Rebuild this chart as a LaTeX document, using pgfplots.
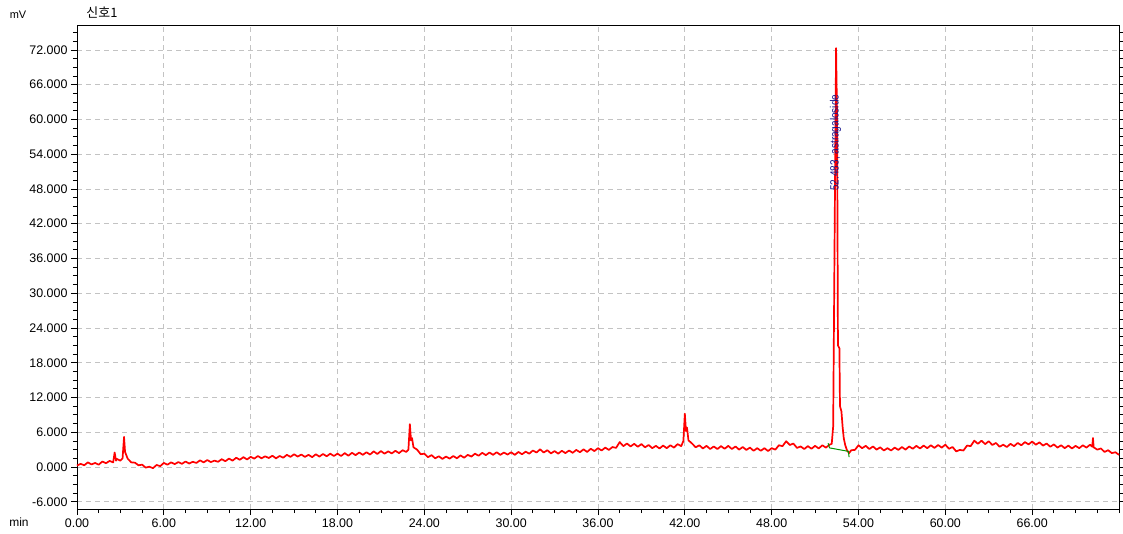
\documentclass[border=0pt]{standalone}
\usepackage{fontspec}
\setmainfont{Liberation Sans}
\newfontfamily\kr{Noto Sans CJK KR}
\usepackage{pgfplots}
\pgfplotsset{compat=1.18}
\usetikzlibrary{calc}
\definecolor{gridgray}{RGB}{195,195,195}
\definecolor{labelblue}{RGB}{20,20,140}
\definecolor{basegreen}{RGB}{0,150,0}
\begin{document}
\begin{tikzpicture}
\begin{axis}[
  name=ax,
  scale only axis,
  width=1042bp, height=484bp,
  xmin=0, xmax=72, ymin=-7.25, ymax=76.3,
  xtick={0,6,...,66},
  ytick={-6,0,...,72},
  minor xtick={0,1.5,...,72},
  minor ytick={-6,-4.5,...,76.5},
  xtick pos=lower, ytick pos=both,
  tick align=outside,
  major tick length=6bp, minor tick length=4bp,
  every tick/.style={black, line width=0.8bp},
  axis line style={black, line width=0.9bp},
  grid=major,
  major grid style={gridgray, dash pattern=on 5bp off 4bp, line width=0.8bp},
  tick label style={font=\fontsize{12.5}{14}\selectfont},
  xticklabel style={/pgf/number format/.cd, fixed, fixed zerofill, precision=2, assume math mode=true},
  yticklabel style={/pgf/number format/.cd, fixed, fixed zerofill, precision=3, assume math mode=true},
  yticklabel pos=left,
  clip=false,
]
\addplot[red, line width=1.7bp, line join=round] table {
x y
0.00 0.25
0.25 0.55
0.50 0.30
0.75 0.80
1.00 0.45
1.25 0.70
1.50 0.40
1.75 0.95
2.00 0.65
2.25 1.05
2.50 0.80
2.60 2.50
2.70 1.10
2.75 1.40
3.00 1.10
3.15 1.50
3.25 5.20
3.32 2.60
3.50 1.45
3.75 0.80
4.00 0.75
4.25 0.30
4.50 0.40
4.75 -0.10
5.00 0.05
5.25 -0.20
5.50 0.35
5.75 0.15
6.00 0.70
6.25 0.40
6.50 0.80
6.75 0.50
7.00 0.85
7.25 0.55
7.50 0.95
7.75 0.60
8.00 0.90
8.25 0.70
8.50 1.15
8.75 0.80
9.00 1.20
9.25 0.85
9.50 1.10
9.75 0.90
10.00 1.35
10.25 1.00
10.50 1.45
10.75 1.10
11.00 1.60
11.25 1.25
11.50 1.70
11.75 1.30
12.00 1.75
12.25 1.45
12.50 1.90
12.75 1.50
13.00 1.85
13.25 1.55
13.50 1.95
13.75 1.50
14.00 1.90
14.25 1.60
14.50 2.10
14.75 1.75
15.00 2.20
15.25 1.80
15.50 2.15
15.75 1.75
16.00 2.10
16.25 1.70
16.50 2.20
16.75 1.80
17.00 2.25
17.25 1.85
17.50 2.30
17.75 1.90
18.00 2.30
18.25 1.90
18.50 2.40
18.75 1.95
19.00 2.45
19.25 2.05
19.50 2.50
19.75 2.10
20.00 2.55
20.25 2.15
20.50 2.70
20.75 2.25
21.00 2.75
21.25 2.30
21.50 2.70
21.75 2.35
22.00 2.80
22.25 2.40
22.50 2.90
22.75 2.60
22.90 3.00
23.00 7.40
23.08 4.60
23.15 5.00
23.25 3.40
23.50 3.00
23.75 2.20
24.00 2.30
24.25 1.70
24.50 2.05
24.75 1.50
25.00 1.85
25.25 1.40
25.50 1.80
25.75 1.45
26.00 1.90
26.25 1.50
26.50 2.00
26.75 1.60
27.00 2.10
27.25 1.80
27.50 2.30
27.75 1.95
28.00 2.45
28.25 2.05
28.50 2.50
28.75 2.10
29.00 2.55
29.25 2.10
29.50 2.50
29.75 2.15
30.00 2.55
30.25 2.10
30.50 2.60
30.75 2.20
31.00 2.65
31.25 2.30
31.50 2.85
31.75 2.50
32.00 3.05
32.25 2.50
32.50 2.90
32.75 2.35
33.00 2.75
33.25 2.30
33.50 2.80
33.75 2.40
34.00 2.85
34.25 2.45
34.50 2.95
34.75 2.55
35.00 3.05
35.25 2.60
35.50 3.15
35.75 2.75
36.00 3.25
36.25 2.85
36.50 3.35
36.75 2.95
37.00 3.45
37.25 3.30
37.50 4.30
37.75 3.60
38.00 4.05
38.25 3.55
38.50 4.00
38.75 3.50
39.00 3.95
39.25 3.40
39.50 3.80
39.75 3.25
40.00 3.65
40.25 3.20
40.50 3.70
40.75 3.25
41.00 3.75
41.25 3.35
41.50 3.95
41.75 3.60
41.90 4.50
42.00 9.20
42.08 6.20
42.15 6.80
42.25 4.60
42.50 4.05
42.75 3.40
43.00 3.75
43.25 3.20
43.50 3.65
43.75 3.10
44.00 3.55
44.25 3.10
44.50 3.60
44.75 3.15
45.00 3.65
45.25 3.10
45.50 3.55
45.75 3.00
46.00 3.45
46.25 2.95
46.50 3.35
46.75 2.80
47.00 3.25
47.25 2.80
47.50 3.25
47.75 2.75
48.00 3.25
48.25 3.00
48.50 3.75
48.75 3.60
49.00 4.45
49.25 3.80
49.50 4.05
49.75 3.30
50.00 3.55
50.25 3.10
50.50 3.60
50.75 3.15
51.00 3.65
51.25 3.20
51.50 3.75
51.75 3.35
52.00 3.85
52.15 4.00
52.25 7.00
52.35 40.0
52.45 72.3
52.52 60.0
52.58 21.0
52.68 20.5
52.72 10.5
52.82 9.6
52.90 7.0
52.98 5.0
53.08 3.8
53.20 2.9
53.35 2.4
53.50 2.90
53.75 2.95
54.00 3.75
54.25 3.25
54.50 3.65
54.75 3.10
55.00 3.55
55.25 3.00
55.50 3.40
55.75 2.85
56.00 3.25
56.25 2.85
56.50 3.35
56.75 2.95
57.00 3.45
57.25 3.00
57.50 3.55
57.75 3.15
58.00 3.65
58.25 3.20
58.50 3.70
58.75 3.25
59.00 3.75
59.25 3.30
59.50 3.80
59.75 3.35
60.00 3.85
60.25 3.15
60.50 3.45
60.75 2.70
61.00 2.95
61.25 2.85
61.50 3.70
61.75 3.60
62.00 4.55
62.25 4.00
62.50 4.55
62.75 3.95
63.00 4.45
63.25 3.80
63.50 4.15
63.75 3.50
64.00 3.85
64.25 3.45
64.50 4.00
64.75 3.60
65.00 4.15
65.25 3.75
65.50 4.30
65.75 3.90
66.00 4.40
66.25 3.85
66.50 4.25
66.75 3.70
67.00 4.05
67.25 3.50
67.50 3.90
67.75 3.35
68.00 3.75
68.25 3.25
68.50 3.70
68.75 3.20
69.00 3.65
69.25 3.25
69.50 3.75
69.75 3.35
70.00 3.85
70.15 3.50
70.20 5.00
70.25 3.40
70.50 3.00
70.75 3.20
71.00 2.60
71.25 2.90
71.50 2.40
71.75 2.55
72.00 2.10
};
\addplot[basegreen, line width=1bp] coordinates {(51.9,4.1) (52.0,3.3) (53.3,2.7) (53.35,1.7)};
\node[rotate=90, text=labelblue, font=\fontsize{12}{14}\selectfont, inner sep=0pt] at (axis cs:52.42,56) {\scalebox{0.84}[1]{52.483, astragaloside}};
\end{axis}
\node[font=\fontsize{11}{12}\selectfont] at ($(ax.north west)+(-59bp,10bp)$) {mV};
\node[font=\kr\fontsize{13}{15}\selectfont] at ($(ax.north west)+(25bp,12bp)$) {신호1};
\node[font=\fontsize{12}{13}\selectfont] at ($(ax.south west)+(-58bp,-13bp)$) {min};
\pgfresetboundingbox
\path ($(ax.south west)+(-77bp,-24bp)$) rectangle ($(ax.north east)+(4bp,25bp)$);
\end{tikzpicture}
\end{document}
